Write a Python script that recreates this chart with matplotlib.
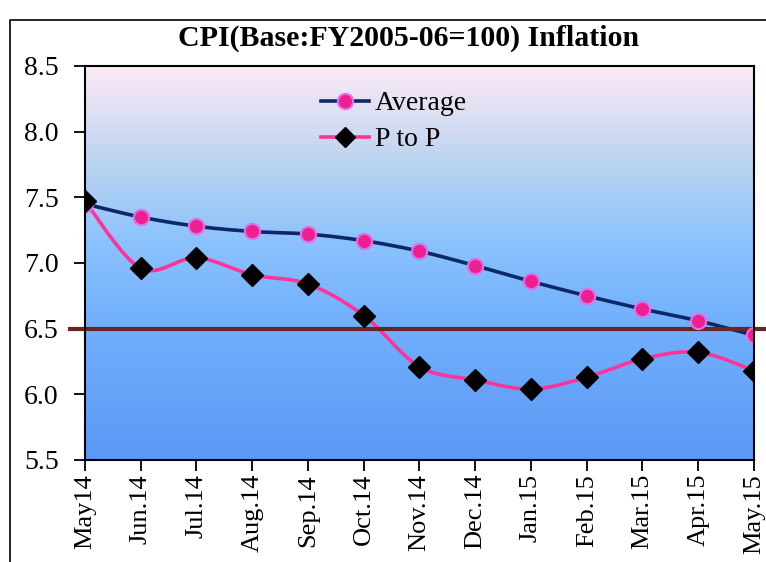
import numpy as np
import matplotlib.pyplot as plt
import matplotlib.transforms as mtransforms
from matplotlib.colors import LinearSegmentedColormap
from matplotlib.lines import Line2D

plt.rcParams['font.family'] = ['Liberation Serif', 'DejaVu Serif']

# data
months = ["May14", "Jun.14", "Jul.14", "Aug.14", "Sep.14", "Oct.14", "Nov.14",
          "Dec.14", "Jan.15", "Feb.15", "Mar.15", "Apr.15", "May.15"]
average = [7.45, 7.35, 7.28, 7.24, 7.22, 7.17, 7.09, 6.98, 6.86, 6.75, 6.65, 6.56, 6.45]
p_to_p = [7.47, 6.96, 7.04, 6.91, 6.84, 6.60, 6.21, 6.11, 6.04, 6.13, 6.27, 6.32, 6.18]
ref_level = 6.5
y_ticks = [5.5, 6.0, 6.5, 7.0, 7.5, 8.0, 8.5]


def smooth_line(x, y, n=24):
    # catmull-rom curve through the points, like excel's smoothed line
    x = np.asarray(x, float)
    y = np.asarray(y, float)
    px = np.concatenate([[x[0]], x, [x[-1]]])
    py = np.concatenate([[y[0]], y, [y[-1]]])
    xs, ys = [], []
    t = np.linspace(0, 1, n)
    for i in range(1, len(px) - 2):
        for p, out in ((px, xs), (py, ys)):
            p0, p1, p2, p3 = p[i - 1], p[i], p[i + 1], p[i + 2]
            out.extend(0.5 * ((2 * p1) + (-p0 + p2) * t +
                              (2 * p0 - 5 * p1 + 4 * p2 - p3) * t ** 2 +
                              (-p0 + 3 * p1 - 3 * p2 + p3) * t ** 3))
    return np.array(xs), np.array(ys)


fig = plt.figure(figsize=(7.66, 5.62), dpi=100)
ax = fig.add_axes([85 / 766, 1 - 460 / 562, 669 / 766, 394 / 562])

x = np.arange(len(months))
ax.set_xlim(0, len(months) - 1)
ax.set_ylim(5.5, 8.5)

# gradient background
cmap = LinearSegmentedColormap.from_list(
    "bg", [(0.0, "#5b98f5"), (0.35, "#72b0fd"), (0.55, "#8ac2fc"),
           (0.75, "#bad3ef"), (1.0, "#fdeaf6")])
grad = np.linspace(0, 1, 256).reshape(-1, 1)
ax.imshow(grad, cmap=cmap, origin="lower", aspect="auto",
          extent=[0, len(months) - 1, 5.5, 8.5], zorder=0)

sx, sy = smooth_line(x, average)
ax.plot(sx, sy, color="#0c2868", lw=2.6, zorder=3)
sx, sy = smooth_line(x, p_to_p)
ax.plot(sx, sy, color="#ff3399", lw=2.6, zorder=4)

# reference line, sticking out past the plot area
trans = mtransforms.blended_transform_factory(ax.transAxes, ax.transData)
ax.plot([-0.022, 1.02], [ref_level, ref_level], color="#6b2424", lw=3,
        transform=trans, clip_on=False, zorder=5)

ax.plot(x, average, ls="none", marker="o", ms=11, mfc="#ee2090",
        mec="#e070e8", mew=1.5, zorder=6)
ax.plot(x, p_to_p, ls="none", marker="D", ms=11.5, mfc="black",
        mec="black", zorder=7)

ax.set_xticks(x)
ax.set_xticklabels(months, rotation=90, fontsize=19)
ax.set_yticks(y_ticks)
ax.set_yticklabels([f"{v:.1f}" for v in y_ticks], fontsize=20)
ax.tick_params(axis="x", direction="out", length=8, width=1.3, pad=2)
ax.tick_params(axis="y", direction="out", length=8, width=1.3, pad=11)
for s in ax.spines.values():
    s.set_linewidth(1.5)
    s.set_zorder(8)

handles = [
    Line2D([], [], color="#0c2868", lw=2.6, marker="o", ms=11,
           mfc="#ee2090", mec="#e070e8", mew=1.5),
    Line2D([], [], color="#ff3399", lw=2.6, marker="D", ms=10.5,
           mfc="black", mec="black"),
]
ax.legend(handles, ["Average", "P to P"], loc="upper left",
          bbox_to_anchor=(0.315, 1.0), frameon=False, fontsize=20,
          handlelength=1.75, handletextpad=0.2, labelspacing=0.38)

fig.text(0.533, 0.932, "CPI(Base:FY2005-06=100) Inflation", ha="center",
         va="center", fontsize=21.5, fontweight="bold")

# outer chart frame
fig.add_artist(Line2D([10 / 766, 10 / 766, 1.0], [0.0, 1 - 20 / 562, 1 - 20 / 562],
                      color="black", lw=1.2, transform=fig.transFigure))

fig.savefig("out.png", dpi=100)
